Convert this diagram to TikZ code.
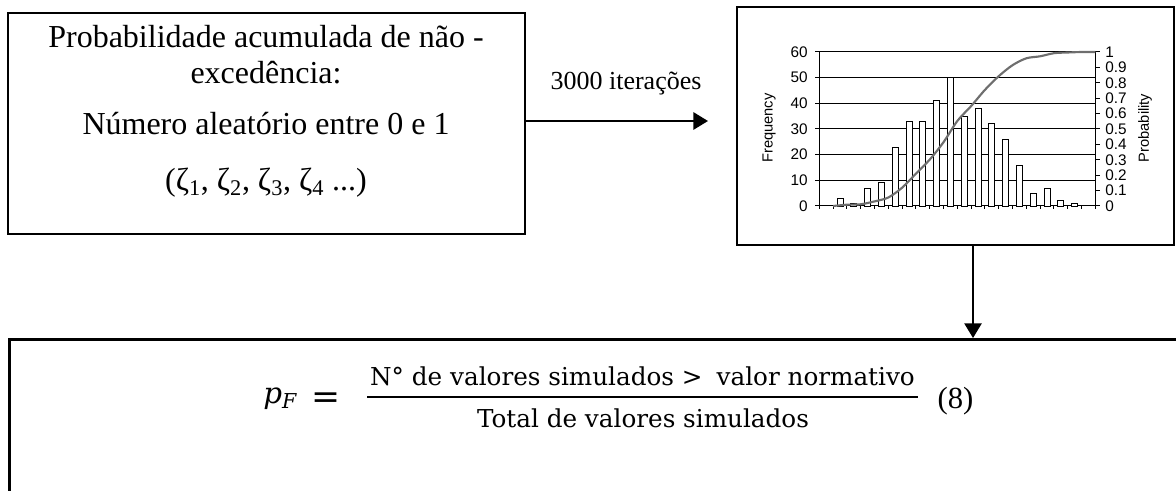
\documentclass[tikz,border=0pt]{standalone}
\usepackage{fontspec}
\setmainfont{Liberation Serif}
\setsansfont{Liberation Sans}
\newfontfamily\eqfont{DejaVu Serif}
\usetikzlibrary{arrows.meta}
\definecolor{cdfgray}{HTML}{6E6E6E}
\begin{document}
\begin{tikzpicture}[x=0.75pt,y=-0.75pt,
  frame/.style={draw=black,line width=1.5pt,inner sep=0pt},
  boxtext/.style={anchor=base,inner sep=0pt,font=\fontsize{24}{28}\selectfont},
  arr/.style={line width=1.5pt,-{Triangle[length=11pt,width=13pt]}},
  gridln/.style={line width=0.75pt,black},
  bar/.style={draw=black,fill=white,line width=0.6pt},
  cdf/.style={draw=cdfgray,line width=1.6pt},
  ticklab/.style={font=\sffamily\fontsize{11.5}{13}\selectfont,inner sep=0pt},
  axtitle/.style={font=\sffamily\fontsize{11}{13}\selectfont,inner sep=0pt,rotate=90},
  eqtext/.style={font=\eqfont\fontsize{18.5}{22}\selectfont,anchor=base,inner sep=0pt}]
\useasboundingbox (0,0) rectangle (1176,491);
\clip (0,0) rectangle (1176,491);
% boxes
\node[frame,minimum width=387.75pt,minimum height=165.75pt] (src) at (266.5,123.5) {};
\node[frame,minimum width=327.75pt,minimum height=178.5pt] (chart) at (955.5,126) {};
\node[frame,line width=2pt,anchor=north west,minimum width=900pt,minimum height=150pt] (res) at (8,338) {};
% left box text
\node[boxtext] (l1) at (266,48) {Probabilidade acumulada de não -};
\node[boxtext] (l2) at (266,84) {excedência:};
\node[boxtext] (l3) at (266,135) {Número aleatório entre 0 e 1};
\node[boxtext] (l4) at (266,191) {(ζ\textsubscript{1}, ζ\textsubscript{2}, ζ\textsubscript{3}, ζ\textsubscript{4} ...)};
% connectors
\coordinate (ah) at (708,121);
\draw[arr] (src.east |- ah) -- (ah);
\node[font=\fontsize{19.5}{22}\selectfont,anchor=base,inner sep=0pt] (lbl) at (626,90) {3000 iterações};
\coordinate (dx) at (973,0);
\draw[arr,line width=1.1pt] (chart.south -| dx) -- (res.north -| dx);
% chart grid
\foreach \i in {0,...,6} \draw[gridln] (815,{206-25.667*\i}) -- (1095.3,{206-25.667*\i});
\foreach \i/\t in {0/0,1/10,2/20,3/30,4/40,5/50,6/60}
  \node[ticklab,anchor=east] (fl\i) at (808,{206-25.667*\i}) {\t};
\foreach \j in {0,...,10} \draw[gridln] (1095.3,{206-15.4*\j}) -- (1099.5,{206-15.4*\j});
\foreach \j/\t in {0/0,1/0.1,2/0.2,3/0.3,4/0.4,5/0.5,6/0.6,7/0.7,8/0.8,9/0.9,10/1}
  \node[ticklab,anchor=west] (pl\j) at (1105,{206-15.4*\j}) {\t};
\draw[gridln] (819.3,52) -- (819.3,206);
\draw[gridln] (1095.3,52) -- (1095.3,206);
\foreach \k in {0,...,20} \draw[gridln] ({819.3+13.8*\k},206) -- ({819.3+13.8*\k},209.5);
% bars
\foreach \k/\v in {1/3,2/1,3/7,4/9,5/23,6/33,7/33,8/41,9/50,10/35,11/38,12/32,13/26,14/16,15/5,16/7,17/2,18/1}
  \draw[bar] ({819.3+13.8*\k+3.9},206) rectangle ({819.3+13.8*\k+9.9},{206-2.5667*\v});
% cumulative curve
\draw[cdf] plot[smooth,tension=0.5] coordinates {(833.1,206) (846.9,204.7) (860.7,204.3) (874.5,201.4) (888.3,197.5) (902.1,187.7) (915.9,173.7) (929.7,159.6) (943.5,142.2) (957.3,121.0) (971.1,106.1) (984.9,89.9) (998.7,76.2) (1012.5,65.2) (1026.3,58.3) (1040.1,56.3) (1053.9,53.2) (1067.7,52.5) (1081.5,52) (1095.3,52)};
\node[axtitle] (freq) at (769,128) {Frequency};
\node[axtitle] (prob) at (1145,128) {Probability};
% formula
\node[font=\eqfont\itshape\fontsize{22}{24}\selectfont,anchor=base west,inner sep=0pt] (pf) at (263,403) {p\textsubscript{F}};
\node[font=\eqfont\fontsize{26}{28}\selectfont,inner sep=0pt] (eq) at (326,401) {=};
\node[eqtext] (num) at (642.5,385) {N° de valores simulados >\hspace{0.25em} valor normativo};
\draw[line width=1.6pt] (367,397) -- (918,397);
\node[eqtext] (den) at (643,427) {Total de valores simulados};
\node[font=\fontsize{23}{26}\selectfont,inner sep=0pt] (eqn) at (955.5,401) {(8)};
\end{tikzpicture}
\end{document}
